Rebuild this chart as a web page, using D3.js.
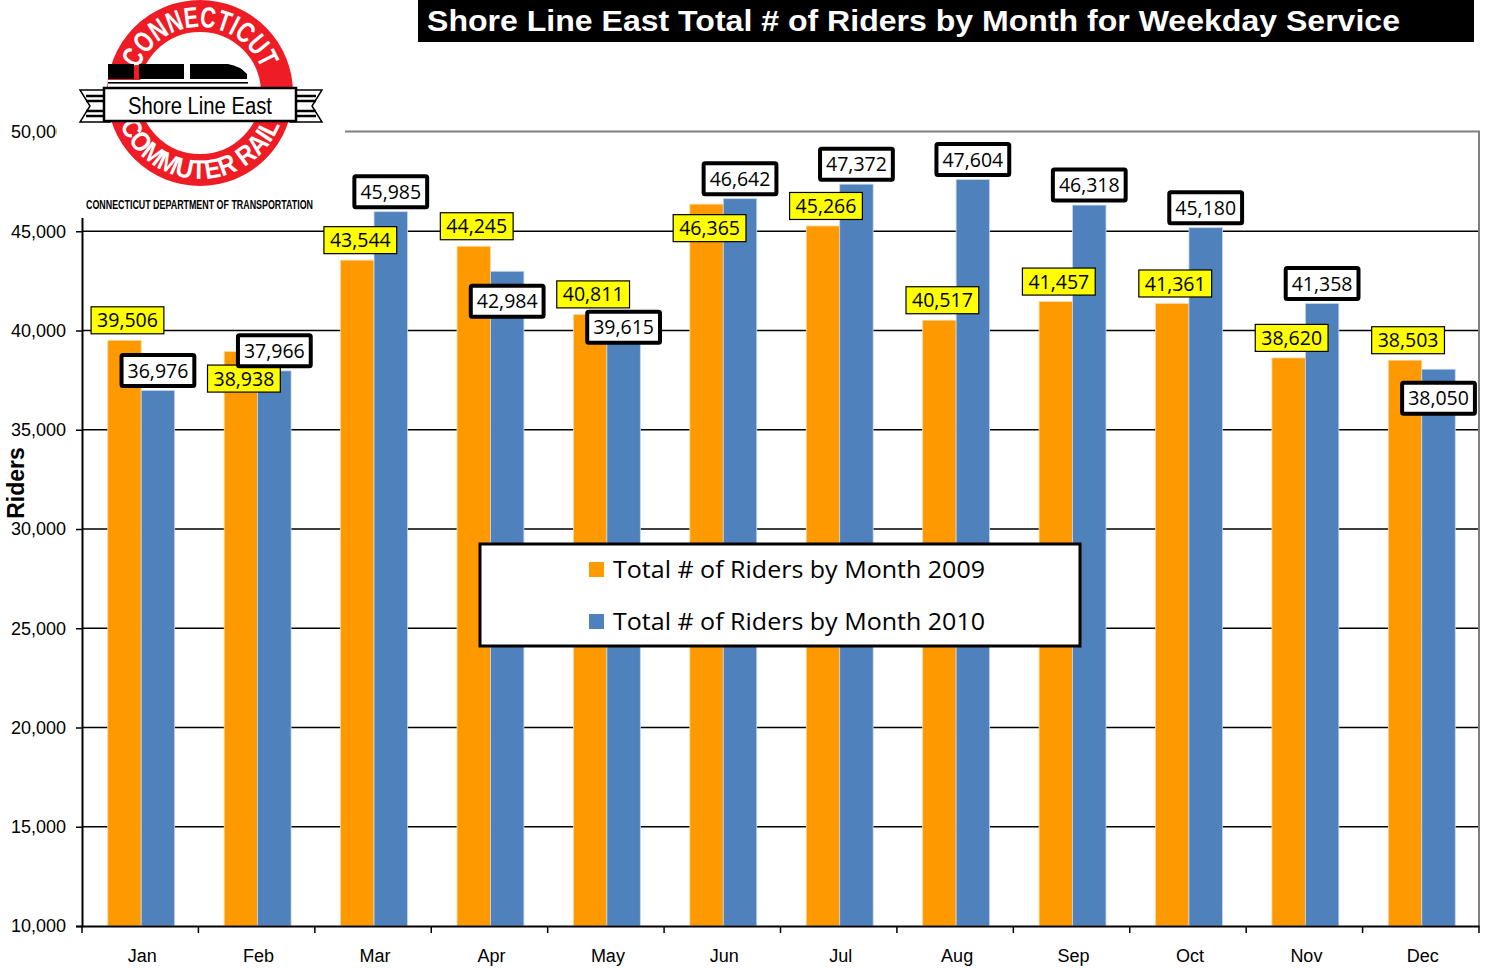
<!DOCTYPE html>
<html>
<head>
<meta charset="utf-8">
<script src="https://cdn.jsdelivr.net/npm/d3@7"></script>
<style>
  body { margin: 0; background: #fff; }
  svg { display: block; }
</style>
</head>
<body>
<div id="chart"></div>
<script>
// months and riders per month
var months = ['Jan', 'Feb', 'Mar', 'Apr', 'May', 'Jun', 'Jul', 'Aug', 'Sep', 'Oct', 'Nov', 'Dec'];
var riders2009 = [39506, 38938, 43544, 44245, 40811, 46365, 45266, 40517, 41457, 41361, 38620, 38503];
var riders2010 = [36976, 37966, 45985, 42984, 39615, 46642, 47372, 47604, 46318, 45180, 41358, 38050];
var seriesNames = ['Total # of Riders by Month 2009', 'Total # of Riders by Month 2010'];
var yTicks = [10000, 15000, 20000, 25000, 30000, 35000, 40000, 45000, 50000];

// hand placed labels (pixel nudges, like the moved labels in the original sheet)
var nudge2009 = [0, 47, 0, 0, 0, 44, 0, 0, 0, 0, 0, 0];
var nudge2010 = [0, 0, 0, 50, 9, 0, 0, 0, 0, 0, 0, 49];

var W = 1489, H = 968;
var mLeft = 82, mRight = 1479, mTop = 132, mBottom = 926;
var colors = ['#ff9900', '#4f81bd'];

var svg = d3.select('#chart').append('svg')
  .attr('width', W)
  .attr('height', H);

var x0 = d3.scaleBand().domain(months).range([mLeft, mRight]).padding(0);
var x1 = d3.scaleBand().domain([0, 1]).range([0, x0.bandwidth()]).paddingInner(0).paddingOuter(0.74);
var y = d3.scaleLinear().domain([10000, 50000]).range([mBottom, mTop]);

// gridlines
svg.append('g')
  .selectAll('line')
  .data(yTicks.slice(1, -1))
  .enter()
  .append('line')
  .attr('x1', mLeft).attr('x2', mRight)
  .attr('y1', function(d) { return y(d); })
  .attr('y2', function(d) { return y(d); })
  .attr('stroke', '#000')
  .attr('stroke-width', 1.5);

// top + right border
svg.append('path')
  .attr('d', 'M' + mLeft + ',' + (y(50000) - 0.5) + 'H' + mRight + 'V' + mBottom)
  .attr('fill', 'none')
  .attr('stroke', '#808080')
  .attr('stroke-width', 2);

// bars
var groups = svg.append('g')
  .selectAll('g')
  .data(months)
  .enter()
  .append('g')
  .attr('transform', function(d) { return 'translate(' + x0(d) + ',0)'; });

groups.selectAll('rect')
  .data(function(d, i) { return [riders2009[i], riders2010[i]]; })
  .enter()
  .append('rect')
  .attr('x', function(d, j) { return x1(j) + 1; })
  .attr('y', function(d) { return y(d); })
  .attr('width', x1.bandwidth())
  .attr('height', function(d) { return mBottom - y(d); })
  .attr('fill', function(d, j) { return colors[j]; })
  .attr('stroke', function(d, j) { return j ? '#c6d6ec' : '#ffd9a0'; })
  .attr('stroke-width', 0.8);

// axes
var yAxis = d3.axisLeft(y).tickValues(yTicks).tickSize(6).tickFormat(d3.format(','));
var gy = svg.append('g').attr('transform', 'translate(' + mLeft + ',0)').call(yAxis);
gy.select('.domain').attr('stroke', '#000').attr('stroke-width', 2);
gy.selectAll('.tick line').attr('stroke', '#000').attr('stroke-width', 1.5);
gy.selectAll('.tick text')
  .attr('x', -16)
  .attr('font-family', 'Liberation Sans, Arial, sans-serif')
  .attr('font-size', 18)
  .attr('fill', '#000');

var xAxis = d3.axisBottom(x0).tickSize(0).tickSizeOuter(0);
var gx = svg.append('g').attr('transform', 'translate(0,' + mBottom + ')').call(xAxis);
gx.select('.domain').attr('stroke', '#000').attr('stroke-width', 2);
gx.selectAll('.tick text')
  .attr('x', 2)
  .attr('y', 23)
  .attr('font-family', 'Liberation Sans, Arial, sans-serif')
  .attr('font-size', 18)
  .attr('fill', '#000');
// category separators on the x axis
svg.append('g')
  .selectAll('line')
  .data(months.concat(['end']))
  .enter()
  .append('line')
  .attr('x1', function(d, i) { return mLeft + i * x0.step(); })
  .attr('x2', function(d, i) { return mLeft + i * x0.step(); })
  .attr('y1', mBottom)
  .attr('y2', mBottom + 7)
  .attr('stroke', '#000')
  .attr('stroke-width', 1.5);

// data labels
function drawLabels(vals, nud, j) {
  var g = svg.append('g');
  vals.forEach(function(v, i) {
    var cx = x0(months[i]) + x1(j) + x1.bandwidth() / 2 + (j ? 1 : 4);
    var cy = y(v) - 20 + nud[i];
    var lg = g.append('g').attr('transform', 'translate(' + cx + ',' + cy + ')');
    var r = lg.append('rect');
    var t = lg.append('text')
      .attr('text-anchor', 'middle')
      .attr('dy', '0.36em')
      .attr('font-family', 'Open Sans, sans-serif')
      .attr('font-size', 19.5)
      .attr('fill', '#000')
      .text(d3.format(',')(v));
    var w = t.node().getComputedTextLength() + 12;
    var h = j ? 31 : 27;
    r.attr('x', -w / 2).attr('y', -h / 2).attr('width', w).attr('height', h)
      .attr('fill', j ? '#fff' : '#ffff00')
      .attr('stroke', '#000')
      .attr('stroke-width', j ? 4 : 1.2)
      .attr('rx', j ? 1.5 : 0);
  });
}
drawLabels(riders2009, nudge2009, 0);
drawLabels(riders2010, nudge2010, 1);

// legend
var leg = svg.append('g');
leg.append('rect')
  .attr('x', 480).attr('y', 544).attr('width', 600).attr('height', 102)
  .attr('fill', '#fff').attr('stroke', '#000').attr('stroke-width', 3);
seriesNames.forEach(function(name, j) {
  leg.append('rect')
    .attr('x', 589).attr('y', 562 + j * 52).attr('width', 15).attr('height', 15)
    .attr('fill', colors[j]);
  leg.append('text')
    .attr('x', 613).attr('y', 578 + j * 52)
    .attr('font-family', 'Open Sans, sans-serif')
    .attr('font-size', 23.5)
    .attr('textLength', 372)
    .attr('lengthAdjust', 'spacingAndGlyphs')
    .attr('fill', '#000')
    .text(name);
});

// y label
svg.append('text')
  .attr('transform', 'translate(24,483) rotate(-90)')
  .attr('text-anchor', 'middle')
  .attr('font-family', 'Liberation Sans, Arial, sans-serif')
  .attr('font-weight', 'bold')
  .attr('font-size', 23)
  .text('Riders');

// title
svg.append('rect').attr('x', 418).attr('y', 0).attr('width', 1056).attr('height', 42).attr('fill', '#000');
svg.append('text')
  .attr('x', 427).attr('y', 31)
  .attr('font-family', 'Liberation Sans, Arial, sans-serif')
  .attr('font-weight', 'bold')
  .attr('font-size', 29)
  .attr('textLength', 973)
  .attr('lengthAdjust', 'spacingAndGlyphs')
  .attr('fill', '#fff')
  .text('Shore Line East Total # of Riders by Month for Weekday Service');

// logo
var logo = svg.append('g');
logo.append('rect').attr('x', 57).attr('y', 0).attr('width', 288).attr('height', 218).attr('fill', '#fff');
var cx = 200, cy = 93;
logo.append('circle').attr('cx', cx).attr('cy', cy).attr('r', 77).attr('fill', 'none')
  .attr('stroke', '#ee1c25').attr('stroke-width', 32);
var defs = svg.append('defs');
defs.append('path').attr('id', 'arcTop')
  .attr('d', 'M' + (cx - 66) + ',' + cy + 'A66,66 0 0,1 ' + (cx + 66) + ',' + cy);
defs.append('path').attr('id', 'arcBot')
  .attr('d', 'M' + (cx - 86) + ',' + cy + 'A86,86 0 0,0 ' + (cx + 86) + ',' + cy);
logo.append('text')
  .attr('font-family', 'Liberation Sans Narrow, Liberation Sans, sans-serif')
  .attr('font-size', 29).attr('font-weight', 'bold').attr('fill', '#fff')
  .append('textPath').attr('href', '#arcTop').attr('startOffset', '50%').attr('text-anchor', 'middle')
  .attr('textLength', 158).attr('lengthAdjust', 'spacingAndGlyphs')
  .text('CONNECTICUT');
logo.append('text')
  .attr('font-family', 'Liberation Sans Narrow, Liberation Sans, sans-serif')
  .attr('font-size', 27).attr('font-weight', 'bold').attr('fill', '#fff')
  .append('textPath').attr('href', '#arcBot').attr('startOffset', '50%').attr('text-anchor', 'middle')
  .attr('textLength', 205).attr('lengthAdjust', 'spacingAndGlyphs')
  .text('COMMUTER RAIL');
// train
logo.append('rect').attr('x', 108).attr('y', 80).attr('width', 140).attr('height', 10).attr('fill', '#fff');
logo.append('rect').attr('x', 108).attr('y', 64).attr('width', 26).attr('height', 15).attr('fill', '#000');
logo.append('rect').attr('x', 139).attr('y', 64).attr('width', 45).attr('height', 15).attr('fill', '#000');
logo.append('path').attr('d', 'M190,64 H228 Q240,66 247,74 V79 H190 Z').attr('fill', '#000');
logo.append('rect').attr('x', 108).attr('y', 82).attr('width', 140).attr('height', 1.6).attr('fill', '#000');
// ribbon
[[80, 110, 1], [322, 290, -1]].forEach(function(e) {
  var a = e[0], b = e[1];
  logo.append('path')
    .attr('d', 'M' + a + ',90 L' + b + ',90 L' + b + ',122 L' + a + ',122 L' + (a + 10 * e[2]) + ',106 Z')
    .attr('fill', '#fff').attr('stroke', '#000').attr('stroke-width', 1.5);
  [96, 101, 111, 116].forEach(function(yy) {
    logo.append('line').attr('x1', a + 6 * e[2]).attr('x2', b).attr('y1', yy).attr('y2', yy)
      .attr('stroke', '#000').attr('stroke-width', 2.5);
  });
});
logo.append('rect').attr('x', 104).attr('y', 88).attr('width', 192).attr('height', 33)
  .attr('fill', '#fff').attr('stroke', '#000').attr('stroke-width', 2.5);
logo.append('text').attr('x', 200).attr('y', 114).attr('text-anchor', 'middle')
  .attr('font-family', 'Liberation Sans, Arial, sans-serif').attr('font-size', 23)
  .attr('textLength', 144).attr('lengthAdjust', 'spacingAndGlyphs')
  .text('Shore Line East');
logo.append('text').attr('x', 86).attr('y', 209)
  .attr('font-family', 'Liberation Sans Narrow, Liberation Sans, sans-serif')
  .attr('font-size', 12).attr('font-weight', 'bold')
  .attr('textLength', 227).attr('lengthAdjust', 'spacingAndGlyphs')
  .text('CONNECTICUT DEPARTMENT OF TRANSPORTATION');
</script>
</body>
</html>
